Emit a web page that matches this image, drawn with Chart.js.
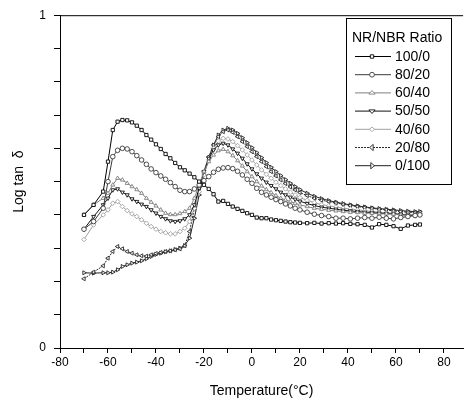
<!DOCTYPE html>
<html>
<head>
<meta charset="utf-8">
<script src="https://cdn.jsdelivr.net/npm/chart.js@4.4.1/dist/chart.umd.min.js"></script>
<style>
  html, body { margin: 0; padding: 0; background: #fff; }
  #c { display: block; }
</style>
</head>
<body>
<canvas id="c" width="468" height="403"></canvas>
<script>
// ---- data ----
const temps = [-70,-66,-62,-60,-58,-56,-54,-52,-50,-48,-46,-44,-42,-40,-38,-36,-34,-32,-30,-28,-26,-24,-22,-20,-18,-16,-14,-12,-10,-8,-6,-4,-2,0,2,4,6,8,10,12,14,16,18,20,23,26,29,32,35,38,41,44,47,50,53,56,59,62,65,68,70];
const xTickValues = [-80,-70,-60,-50,-40,-30,-20,-10,0,10,20,30,40,50,60,70,80];

const ratio100_0 = [.40,.43,.47,.56,
  .655,.68,.685,.684,.678,.668,.655,.64,.626,.612,
  .598,.583,.57,.556,.543,.534,.524,.513,.50,.49,
  .478,.462,.44,.442,.433,.425,.418,.412,.405,.40,
  .392,.39,.39,.386,.384,.382,.38,.378,.377,.376,
  .375,.376,.374,.375,.374,.375,.373,.372,.37,.362,.372,.37,.366,.358,.368,.37,
  .371];
const ratio80_20 = [.357,.38,.42,.50,
  .575,.594,.60,.598,.59,.578,.565,.552,.538,.527,
  .517,.507,.497,.485,.474,.47,.47,.478,.49,.503,
  .515,.528,.537,.541,.542,.539,.531,.52,.507,.495,
  .48,.468,.46,.453,.446,.44,.433,.427,.42,.415,
  .408,.402,.398,.395,.39,.39,.388,.39,.392,.39,.393,.39,.388,.392,.395,.398,
  .40];
const ratio60_40 = [.40,.43,.45,.465,
  .49,.51,.505,.495,.485,.476,.465,.45,.438,.427,
  .415,.405,.401,.401,.404,.41,.42,.45,.49,.53,
  .56,.58,.593,.597,.59,.578,.563,.547,.53,.515,
  .50,.487,.476,.467,.458,.45,.445,.44,.435,.43,
  .425,.42,.417,.414,.412,.41,.408,.407,.405,.405,.403,.403,.402,.40,.40,.40,
  .401];
const ratio50_50 = [.357,.395,.43,.45,
  .475,.478,.468,.46,.448,.44,.432,.425,.415,.405,
  .395,.388,.382,.38,.382,.388,.40,.43,.48,.53,
  .57,.595,.61,.615,.61,.598,.585,.57,.553,.538,
  .523,.51,.498,.488,.478,.468,.46,.453,.447,.441,
  .434,.428,.423,.42,.417,.414,.412,.41,.408,.407,.405,.404,.403,.402,.40,.398,
  .40];
const ratio40_60 = [.326,.37,.40,.415,
  .435,.44,.425,.413,.403,.395,.385,.375,.365,.357,
  .35,.346,.343,.343,.35,.36,.38,.42,.47,.52,
  .565,.60,.622,.63,.628,.62,.608,.595,.58,.565,
  .55,.535,.522,.51,.498,.488,.478,.468,.46,.452,
  .444,.437,.431,.427,.424,.42,.418,.415,.413,.41,.408,.406,.405,.40,.395,.40,
  .403];
const ratio20_80 = [.208,.228,.247,.27,
  .29,.305,.298,.29,.285,.28,.277,.276,.28,.284,
  .287,.29,.292,.295,.298,.307,.35,.42,.48,.53,
  .575,.61,.635,.65,.655,.648,.635,.62,.605,.59,
  .575,.56,.545,.53,.517,.505,.494,.484,.475,.467,
  .458,.45,.444,.44,.436,.432,.428,.425,.422,.42,.417,.415,.412,.41,.408,.407,
  .408];
const ratio0_100 = [.226,.225,.226,.226,
  .228,.235,.245,.25,.255,.258,.262,.268,.275,.281,
  .285,.289,.292,.296,.30,.308,.33,.39,.46,.52,
  .57,.61,.64,.655,.66,.655,.645,.632,.617,.602,
  .587,.572,.557,.543,.53,.518,.506,.495,.485,.476,
  .465,.456,.449,.443,.438,.434,.43,.427,.424,.421,.419,.417,.415,.413,.411,.41,
  .41];

const seriesLabels = ['100/0','80/20','60/40','50/50','40/60','20/80','0/100'];
const seriesValues = [ratio100_0, ratio80_20, ratio60_40, ratio50_50, ratio40_60, ratio20_80, ratio0_100];
const legendTitle = 'NR/NBR Ratio';
const xTitle = 'Temperature(\u00B0C)';
const yTitle = 'Log tan  \u03B4';

// ---- styles ----
const FONT = '"Liberation Sans", Arial, Helvetica, sans-serif';
const styles = [
  {color:'#000000', point:'rect',     rot:0,   dash:[]},
  {color:'#3a3a3a', point:'circle',   rot:0,   dash:[]},
  {color:'#808080', point:'triangle', rot:0,   dash:[]},
  {color:'#111111', point:'triangle', rot:180, dash:[]},
  {color:'#a0a0a0', point:'rectRot',  rot:0,   dash:[]},
  {color:'#2a2a2a', point:'triangle', rot:-90, dash:[2,1]},
  {color:'#222222', point:'triangle', rot:90,  dash:[]}
];

const datasets = seriesLabels.map((lab, i) => ({
  label: lab,
  data: temps.map((t, k) => ({x: t, y: seriesValues[i][k]})),
  borderColor: styles[i].color,
  borderWidth: 1,
  borderDash: styles[i].dash,
  pointStyle: styles[i].point,
  pointRotation: styles[i].rot,
  pointRadius: 2.3,
  pointBorderWidth: 0.9,
  pointBorderColor: styles[i].color,
  pointBackgroundColor: '#ffffff',
  tension: 0,
  fill: false
}));

function drawMarker(ctx, style, rotDeg, x, y, r, color) {
  ctx.save();
  ctx.translate(x, y);
  ctx.rotate(rotDeg * Math.PI / 180);
  ctx.strokeStyle = color; ctx.fillStyle = '#fff'; ctx.lineWidth = 0.9;
  ctx.setLineDash([]);
  ctx.beginPath();
  if (style === 'circle') {
    ctx.arc(0, 0, r, 0, Math.PI * 2);
  } else if (style === 'rect') {
    const s = r * Math.SQRT1_2 * 2;
    ctx.rect(-s/2, -s/2, s, s);
  } else if (style === 'rectRot') {
    ctx.moveTo(0, -r); ctx.lineTo(r, 0); ctx.lineTo(0, r); ctx.lineTo(-r, 0); ctx.closePath();
  } else {
    const h = r * 1.5;
    ctx.moveTo(0, -r); ctx.lineTo(h * 0.866, r * 0.5); ctx.lineTo(-h * 0.866, r * 0.5); ctx.closePath();
  }
  ctx.fill(); ctx.stroke();
  ctx.restore();
}

const framePlugin = {
  id: 'frameAndLegend',
  afterDraw(chart) {
    const ctx = chart.ctx;
    const a = chart.chartArea;
    ctx.save();
    // top frame line
    ctx.strokeStyle = '#000'; ctx.lineWidth = 1;
    ctx.beginPath(); ctx.moveTo(a.left, a.top + 0.5); ctx.lineTo(a.right, a.top + 0.5); ctx.stroke();
    // legend box
    const bx = 346.5, by = 18.5, bw = 105, bh = 166;
    ctx.fillStyle = '#fff';
    ctx.fillRect(bx, by, bw, bh);
    ctx.strokeRect(bx, by, bw, bh);
    ctx.font = '14px ' + FONT;
    ctx.fillStyle = '#000'; ctx.textBaseline = 'middle'; ctx.textAlign = 'left';
    ctx.fillText(legendTitle, 352, 38);
    chart.data.datasets.forEach((ds, i) => {
      const y = 56.5 + i * 18.2;
      ctx.strokeStyle = ds.borderColor; ctx.lineWidth = 1;
      ctx.setLineDash(ds.borderDash || []);
      ctx.beginPath(); ctx.moveTo(355, y); ctx.lineTo(391, y); ctx.stroke();
      ctx.setLineDash([]);
      drawMarker(ctx, ds.pointStyle, ds.pointRotation || 0, 372, y, 2.4, ds.borderColor);
      ctx.fillStyle = '#000';
      ctx.fillText(ds.label, 395, y + 0.5);
    });
    ctx.restore();
  }
};

new Chart(document.getElementById('c'), {
  type: 'line',
  data: { datasets },
  options: {
    responsive: false,
    devicePixelRatio: 1,
    animation: false,
    layout: { padding: { top: 12, right: 0, bottom: 0, left: 0 } },
    plugins: { legend: { display: false }, tooltip: { enabled: false } },
    scales: {
      x: {
        type: 'linear',
        min: -80, max: 88,
        afterBuildTicks: s => { s.ticks = xTickValues.map(v => ({ value: v })); },
        afterFit: s => { s.height = 55; },
        ticks: {
          autoSkip: false, maxRotation: 0, padding: 2,
          color: '#000', font: { family: FONT, size: 12 },
          callback: v => (Math.round(v) % 20 === 0 ? String(Math.round(v)) : '')
        },
        grid: { drawOnChartArea: false, drawTicks: true, tickLength: 5, color: '#000' },
        border: { display: true, color: '#000', width: 1 },
        title: { display: true, text: xTitle, color: '#000', font: { family: FONT, size: 14 }, padding: { top: 4, bottom: 3 } }
      },
      y: {
        min: 0, max: 1,
        afterFit: s => { s.width = 60; },
        ticks: {
          stepSize: 0.1, autoSkip: false, padding: 8,
          color: '#000', font: { family: FONT, size: 12 },
          callback: v => (Math.abs(v) < 1e-6 ? '0' : (Math.abs(v - 1) < 1e-6 ? '1' : ''))
        },
        grid: { drawOnChartArea: false, drawTicks: true, tickLength: 6, color: '#000' },
        border: { display: true, color: '#000', width: 1 },
        title: { display: true, text: yTitle, color: '#000', font: { family: FONT, size: 14 }, padding: { top: 11, bottom: 0 } }
      }
    }
  },
  plugins: [framePlugin]
});
</script>
</body>
</html>
